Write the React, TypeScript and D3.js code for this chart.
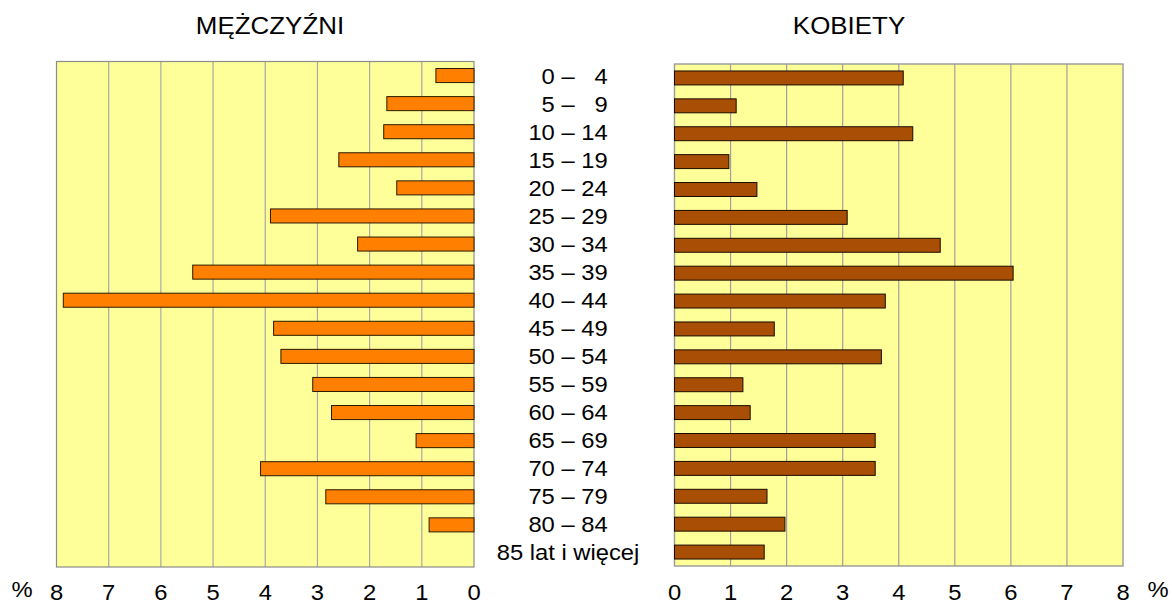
import React from "react";
import * as d3 from "d3";

// age groups, top to bottom
const groups = [
  "\u20070 \u2013 \u20074", "\u20075 \u2013 \u20079", "10 \u2013 14", "15 \u2013 19", "20 \u2013 24", "25 \u2013 29",
  "30 \u2013 34", "35 \u2013 39", "40 \u2013 44", "45 \u2013 49", "50 \u2013 54", "55 \u2013 59",
  "60 \u2013 64", "65 \u2013 69", "70 \u2013 74", "75 \u2013 79", "80 \u2013 84", "85 lat i więcej",
];
const men = [0.73, 1.67, 1.73, 2.59, 1.48, 3.9, 2.23, 5.39, 7.87, 3.84, 3.7, 3.09, 2.73, 1.11, 4.09, 2.84, 0.86, 0];
const women = [4.08, 1.1, 4.25, 0.97, 1.47, 3.08, 4.74, 6.04, 3.76, 1.78, 3.69, 1.22, 1.35, 3.58, 3.58, 1.65, 1.97, 1.6];
const ticks = [0, 1, 2, 3, 4, 5, 6, 7, 8];

const W = 1172, H = 605;
const font = "'Liberation Sans', Arial, sans-serif";

// text slightly stretched horizontally, like the original
const T = ({ x, y, size = 22, children }: { x: number; y: number; size?: number; children: React.ReactNode }) => (
  <text transform={`translate(${x},${y}) scale(1.08,1)`} fontSize={size} textAnchor="middle">{children}</text>
);

export default function App() {
  React.useEffect(() => {
    document.body.style.margin = "0";
  }, []);

  const xL = d3.scaleLinear().domain([0, 8]).range([474, 56.5]);
  const xR = d3.scaleLinear().domain([0, 8]).range([674.5, 1123]);
  const yL = d3.scaleBand<number>().domain(d3.range(groups.length)).range([61.5, 567]).paddingInner(0.5).paddingOuter(0.25);
  const yR = d3.scaleBand<number>().domain(d3.range(groups.length)).range([64, 566]).paddingInner(0.5).paddingOuter(0.25);
  const yLab = d3.scaleBand<number>().domain(d3.range(groups.length)).range([62, 566]);

  return (
    <svg width={W} height={H} style={{ display: "block", background: "#fff" }} fontFamily={font}>
      {/* left panel */}
      <rect x={xL(8)} y={61.5} width={xL(0) - xL(8)} height={567 - 61.5} fill="#FFFF99" />
      {ticks.slice(1, 8).map(t => (
        <line key={t} x1={xL(t)} x2={xL(t)} y1={61.5} y2={567} stroke="#A8A8A8" strokeWidth={1.2} />
      ))}
      <rect x={xL(8)} y={61.5} width={xL(0) - xL(8)} height={567 - 61.5} fill="none" stroke="#8C8C8C" strokeWidth={1.2} />
      {men.map((v, i) => v > 0 && (
        <rect key={i} x={xL(v)} y={yL(i)} width={xL(0) - xL(v)} height={yL.bandwidth()}
          fill="#FF8000" stroke="#2a1a00" strokeWidth={1} />
      ))}
      {ticks.map(t => <T key={t} x={xL(t)} y={600}>{t}</T>)}
      <T x={22} y={597}>%</T>
      <T x={270} y={34} size={24}>MĘŻCZYŹNI</T>

      {/* right panel */}
      <rect x={xR(0)} y={64} width={xR(8) - xR(0)} height={566 - 64} fill="#FFFF99" />
      {ticks.slice(1, 8).map(t => (
        <line key={t} x1={xR(t)} x2={xR(t)} y1={64} y2={566} stroke="#A0A0A0" strokeWidth={1.2} />
      ))}
      <rect x={xR(0)} y={64} width={xR(8) - xR(0)} height={566 - 64} fill="none" stroke="#999" strokeWidth={1.4} />
      {women.map((v, i) => v > 0 && (
        <rect key={i} x={xR(0)} y={yR(i)} width={xR(v) - xR(0)} height={yR.bandwidth()}
          fill="#A84F05" stroke="#1a0a00" strokeWidth={1} />
      ))}
      {ticks.map(t => <T key={t} x={xR(t)} y={600}>{t}</T>)}
      <T x={1158} y={597}>%</T>
      <T x={849} y={34} size={24}>KOBIETY</T>

      {/* age labels */}
      {groups.map((g, i) => (
        <T key={i} x={568} y={yLab(i)! + yLab.bandwidth() / 2 + 7.5}>{g}</T>
      ))}
    </svg>
  );
}
